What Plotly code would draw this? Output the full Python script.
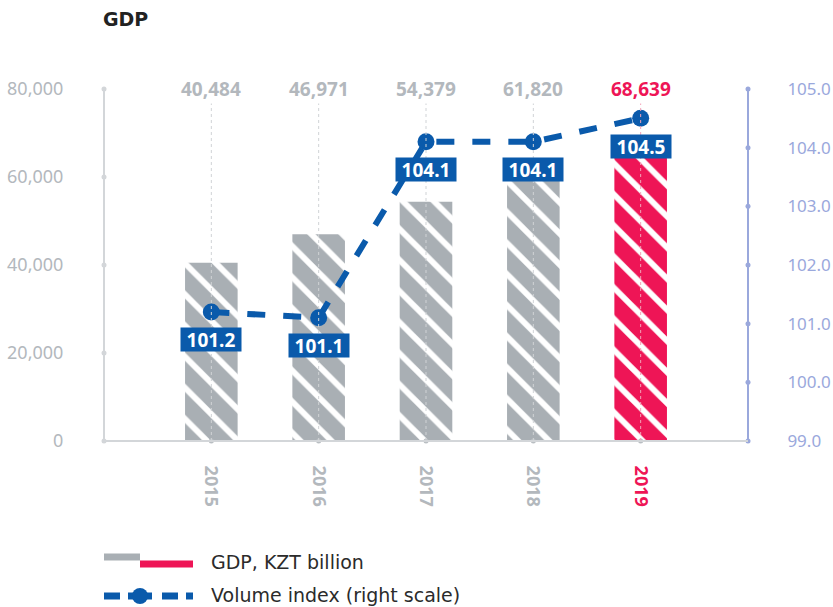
import plotly.graph_objects as go

years = ["2015", "2016", "2017", "2018", "2019"]
gdp = [40484, 46971, 54379, 61820, 68639]
vol_index = [101.2, 101.1, 104.1, 104.1, 104.5]
left_ticks = [0, 20000, 40000, 60000, 80000]
right_ticks = [99.0, 100.0, 101.0, 102.0, 103.0, 104.0, 105.0]

GREY = "#a9afb4"
RED = "#ee1556"
BLUE = "#0a5aab"
LABEL_GREY = "#b3b8bd"
RBLUE = "#9aa8dc"
FONT = "Noto Sans"
LFONT = "DejaVu Sans"

W, H = 833, 607
L, R, T, B = 104, 748, 89, 441

def px(x):
    return (x - L) / (R - L)

def py(y):
    return (B - y) / (B - T)

xs = list(range(len(years)))
lab_colors = [LABEL_GREY] * (len(years) - 1) + [RED]

fig = go.Figure()

for xx, yy, col in [(xs[:-1], gdp[:-1], GREY), (xs[-1:], gdp[-1:], RED)]:
    fig.add_trace(go.Bar(
        x=xx, y=yy, width=0.49,
        marker=dict(color=col, line=dict(width=0),
                    pattern=dict(shape="\\", fgcolor="white", fgopacity=1, bgcolor=col,
                                 size=22, solidity=0.27, fillmode="replace")),
        showlegend=False, hoverinfo="skip",
    ))

fig.add_trace(go.Scatter(
    x=xs, y=vol_index, yaxis="y2", mode="lines+markers",
    line=dict(color=BLUE, width=6, dash="dash"),
    marker=dict(color=BLUE, size=17),
    showlegend=False, hoverinfo="skip",
))

# axis dots
fig.add_trace(go.Scatter(x=[-1] * len(left_ticks), y=left_ticks, mode="markers",
                         marker=dict(color="#d3d6d9", size=5), cliponaxis=False,
                         showlegend=False, hoverinfo="skip"))
fig.add_trace(go.Scatter(x=[5] * len(right_ticks), y=right_ticks, yaxis="y2", mode="markers",
                         marker=dict(color=RBLUE, size=5), cliponaxis=False,
                         showlegend=False, hoverinfo="skip"))
fig.add_trace(go.Scatter(x=xs, y=[0] * len(xs), mode="markers",
                         marker=dict(color="#b9bec2", size=5), cliponaxis=False,
                         showlegend=False, hoverinfo="skip"))

shapes = []
# dotted vertical guides
for i, c in enumerate(lab_colors):
    shapes.append(dict(type="line", xref="x", yref="paper", x0=i, x1=i, y0=0, y1=py(100),
                       line=dict(color="#f3a3b8" if i == len(xs) - 1 else "#d0d3d6", width=1, dash="dot"),
                       layer="above"))
# axis lines
shapes.append(dict(type="line", xref="paper", yref="paper", x0=0, x1=1, y0=0, y1=0,
                   line=dict(color="#d3d6d9", width=2), layer="above"))
shapes.append(dict(type="line", xref="paper", yref="paper", x0=0, x1=0, y0=0, y1=1,
                   line=dict(color="#d3d6d9", width=2), layer="below"))
shapes.append(dict(type="line", xref="paper", yref="paper", x0=1, x1=1, y0=0, y1=1,
                   line=dict(color=RBLUE, width=2), layer="below"))
# legend symbols
shapes.append(dict(type="line", xref="paper", yref="paper", x0=px(104), x1=px(140), y0=py(557), y1=py(557),
                   line=dict(color=GREY, width=7)))
shapes.append(dict(type="line", xref="paper", yref="paper", x0=px(140), x1=px(193), y0=py(564), y1=py(564),
                   line=dict(color=RED, width=7)))
for x0, x1 in [(104, 120), (128, 152), (162, 178), (186, 193)]:
    shapes.append(dict(type="line", xref="paper", yref="paper", x0=px(x0), x1=px(x1), y0=py(596), y1=py(596),
                       line=dict(color=BLUE, width=7)))
shapes.append(dict(type="circle", xref="paper", yref="paper", x0=px(132), x1=px(148),
                   y0=py(604), y1=py(588), fillcolor=BLUE, line=dict(width=0)))

ann = []
ann.append(dict(text="<b>GDP</b>", xref="paper", yref="paper", x=px(101), y=py(19),
                xanchor="left", yanchor="middle", showarrow=False,
                font=dict(family=LFONT, size=19, color="#222")))
for i, (v, c) in enumerate(zip(gdp, lab_colors)):
    ann.append(dict(text=f"<b>{v:,}</b>", x=i, xref="x", yref="paper", y=1, yanchor="middle",
                    showarrow=False, bgcolor="white", font=dict(family=FONT, size=19, color=c)))
for i, v in enumerate(vol_index):
    ann.append(dict(text=f"<b>{v:.1f}</b>", x=i, y=v, xref="x", yref="y2", yshift=-28,
                    showarrow=False, bgcolor=BLUE, borderpad=1, width=58, height=21,
                    font=dict(family=FONT, size=19, color="white")))
ann.append(dict(text="GDP, KZT billion", xref="paper", yref="paper", x=px(209), y=py(562),
                xanchor="left", yanchor="middle", showarrow=False,
                font=dict(family=LFONT, size=19, color="#2b2b2b")))
ann.append(dict(text="Volume index (right scale)", xref="paper", yref="paper", x=px(209), y=py(595),
                xanchor="left", yanchor="middle", showarrow=False,
                font=dict(family=LFONT, size=19, color="#2b2b2b")))

ticktext = [f"<b><span style='color:{c}'>{y}</span></b>" for y, c in zip(years, lab_colors)]

fig.update_layout(
    width=W, height=H,
    margin=dict(l=L, r=W - R, t=T, b=H - B, pad=0, autoexpand=False),
    plot_bgcolor="white", paper_bgcolor="white",
    font=dict(family=FONT),
    showlegend=False, barmode="overlay",
    xaxis=dict(range=[-1, 5], tickvals=xs, ticktext=ticktext, tickangle=90, automargin=False,
               showgrid=False, zeroline=False, showline=False,
               ticks="outside", ticklen=20, tickcolor="rgba(0,0,0,0)",
               tickfont=dict(family=FONT, size=18, color=LABEL_GREY)),
    yaxis=dict(range=[0, 80000], tickvals=left_ticks, ticktext=[f"{t:,}" for t in left_ticks],
               automargin=False, showgrid=False, zeroline=False, showline=False,
               ticks="outside", ticklen=36, tickcolor="rgba(0,0,0,0)",
               tickfont=dict(family=FONT, size=18, color=LABEL_GREY)),
    yaxis2=dict(range=[99, 105], overlaying="y", side="right", tickvals=right_ticks,
                ticktext=[f"{t:.1f}" for t in right_ticks], automargin=False,
                showgrid=False, zeroline=False, showline=False,
                ticks="outside", ticklen=35, tickcolor="rgba(0,0,0,0)",
                tickfont=dict(family=FONT, size=17, color=RBLUE)),
    shapes=shapes, annotations=ann,
)

fig.write_html("out.html")
